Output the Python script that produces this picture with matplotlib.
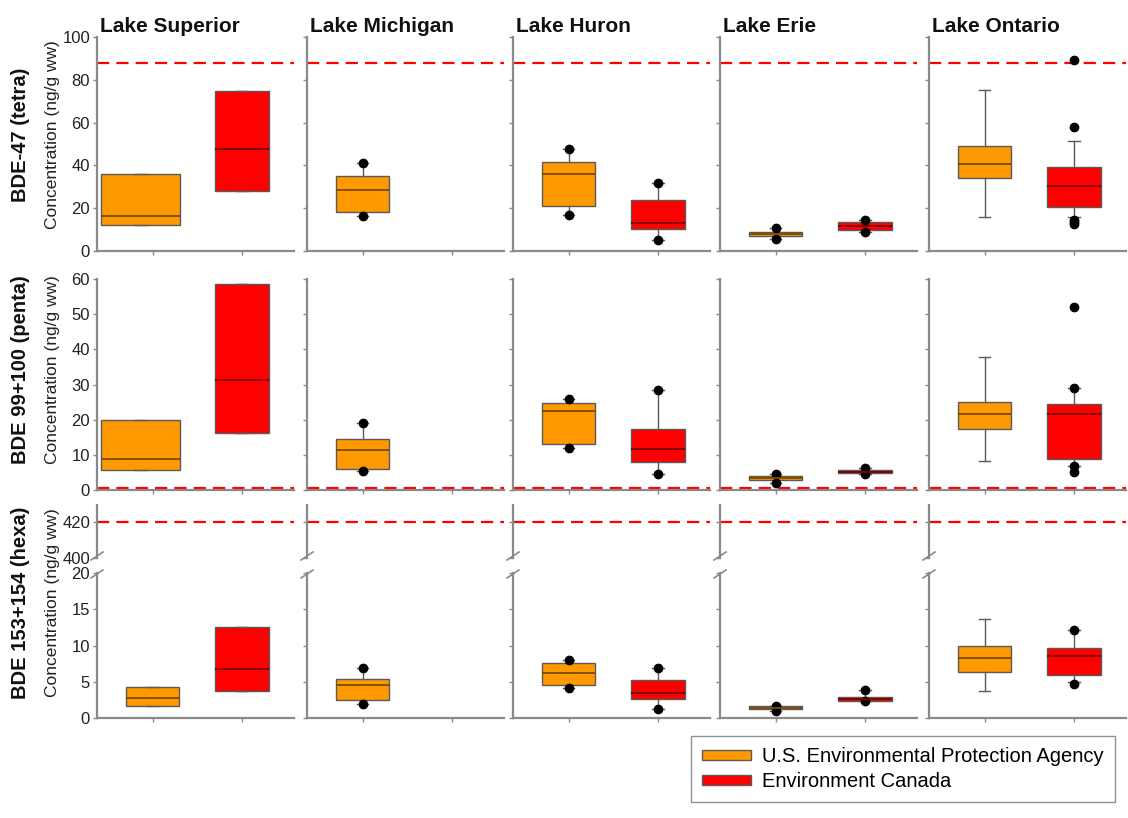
import numpy as np
import matplotlib.pyplot as plt
from matplotlib.patches import Patch

plt.rcParams['font.family'] = ['Liberation Sans', 'DejaVu Sans']

lakes = ['Lake Superior', 'Lake Michigan', 'Lake Huron', 'Lake Erie', 'Lake Ontario']
agencies = ['U.S. Environmental Protection Agency', 'Environment Canada']
row_names = ['BDE-47 (tetra)', 'BDE 99+100 (penta)', 'BDE 153+154 (hexa)']
ylabel = 'Concentration (ng/g ww)'

# box stats per lake: [whisker low, q1, median, q3, whisker high]
tetra_epa = [[12, 12, 16.5, 36, 36], [16.5, 18, 28.4, 35, 41], [16.7, 21.2, 35.8, 41.6, 47.7],
             [5.5, 7.2, 7.9, 8.7, 10.7], [15.9, 34.3, 40.8, 49.2, 75.1]]
tetra_ec = [[28, 28, 47.5, 75, 75], None, [5.1, 10.3, 13, 23.8, 31.6],
            [8.7, 9.8, 11.7, 13.7, 14.5], [15.9, 20.6, 30.5, 39.4, 51.4]]
tetra_epa_out = [[], [16.5, 41], [16.7, 47.7], [5.5, 10.7], []]
tetra_ec_out = [[], [], [5.1, 31.6], [8.7, 14.5], [89.3, 57.9, 14.5, 13.5, 12.6]]

penta_epa = [[5.7, 5.7, 8.7, 19.9, 19.9], [5.4, 6.0, 11.5, 14.4, 19], [12.0, 13.0, 22.5, 24.6, 25.9],
             [2.0, 2.9, 3.5, 4.0, 4.5], [8.2, 17.3, 21.7, 25.1, 37.9]]
penta_ec = [[16.2, 16.2, 31.3, 58.6, 58.6], None, [4.6, 7.9, 11.7, 17.3, 28.4],
            [4.6, 4.7, 5.2, 5.7, 6.3], [6.9, 8.8, 21.6, 24.5, 28.9]]
penta_epa_out = [[], [5.4, 19], [12.0, 25.9], [2.0, 4.5], []]
penta_ec_out = [[], [], [4.6, 28.4], [4.6, 6.3], [52.1, 28.9, 6.9, 5.1]]

hexa_epa = [[1.7, 1.7, 2.75, 4.3, 4.3], [2.0, 2.5, 4.6, 5.4, 6.9], [4.1, 4.5, 6.2, 7.6, 8.0],
            [1.0, 1.2, 1.4, 1.6, 1.7], [3.7, 6.3, 8.3, 10.0, 13.6]]
hexa_ec = [[3.7, 3.7, 6.8, 12.5, 12.5], None, [1.3, 2.6, 3.4, 5.3, 6.9],
           [2.35, 2.4, 2.6, 2.85, 3.8], [4.9, 5.9, 8.5, 9.7, 12.2]]
hexa_epa_out = [[], [2.0, 6.9], [4.1, 8.0], [1.0, 1.7], []]
hexa_ec_out = [[], [], [1.3, 6.9], [2.35, 3.8], [12.2, 4.7]]

# guideline values
limits = [88, 0.7, 420]

epa_col = '#FF9900'
ec_col = '#FF0000'
axis_grey = '#8a8a8a'

W, H = 1128, 818
fig = plt.figure(figsize=(W / 100, H / 100), dpi=100)

col_left = [97, 307, 513, 720, 929]
col_w = 197
rows_px = [(37, 251), (279, 490)]
hexa_top_px = (505, 558)
hexa_bot_px = (573, 718)


def make_ax(x0, top, bottom):
    return fig.add_axes([x0 / W, 1 - bottom / H, col_w / W, (bottom - top) / H])


def style(ax, labels, bottom=True):
    for s in ['top', 'right']:
        ax.spines[s].set_visible(False)
    ax.spines['left'].set_color(axis_grey)
    ax.spines['left'].set_linewidth(1.6)
    ax.spines['bottom'].set_color(axis_grey)
    ax.spines['bottom'].set_linewidth(1.6)
    ax.tick_params(axis='y', direction='out', length=3, width=1, color=axis_grey,
                   labelsize=12, labelcolor='#222222', pad=2)
    ax.tick_params(axis='x', direction='out', length=3, width=1, color=axis_grey,
                   labelbottom=False)
    if not labels:
        ax.tick_params(axis='y', labelleft=False)
    if not bottom:
        ax.spines['bottom'].set_visible(False)
        ax.tick_params(axis='x', length=0)
    ax.set_xlim(0.38, 2.58)
    ax.set_xticks([1, 2])


def draw_boxes(ax, i, j, epa, ec, epa_out, ec_out):
    sets = [(epa[j], epa_out[j], epa_col, '#7a4a00', 1), (ec[j], ec_out[j], ec_col, '#7a0000', 2)]
    for st, out, fc, mc, pos in sets:
        if st is None:
            continue
        w = 0.6
        p = pos
        # Superior EPA box drawn wider in first two rows
        if j == 0 and pos == 1 and i < 2:
            p, w = 0.87, 0.88
        stats = [dict(whislo=st[0], q1=st[1], med=st[2], q3=st[3], whishi=st[4], fliers=out)]
        ax.bxp(stats, positions=[p], widths=[w], patch_artist=True, capwidths=[0.13],
               boxprops=dict(facecolor=fc, edgecolor='#5a5a5a', linewidth=1),
               medianprops=dict(color=mc, linewidth=1.3),
               whiskerprops=dict(color='#5a5a5a', linewidth=1),
               capprops=dict(color='#5a5a5a', linewidth=1),
               flierprops=dict(marker='o', markerfacecolor='black', markeredgecolor='black',
                               markersize=6, linestyle='none'),
               manage_ticks=False)


dash = dict(color='red', linestyle=(0, (5.5, 3.2)), linewidth=1.6)

stats_rows = [(tetra_epa, tetra_ec, tetra_epa_out, tetra_ec_out),
              (penta_epa, penta_ec, penta_epa_out, penta_ec_out)]
ylims = [(0, 100), (0, 60)]
yticks = [np.arange(0, 101, 20), np.arange(0, 61, 10)]

for i in range(2):
    for j in range(5):
        ax = make_ax(col_left[j], *rows_px[i])
        style(ax, j == 0)
        ax.set_ylim(*ylims[i])
        ax.set_yticks(yticks[i])
        ax.axhline(limits[i], **dash, zorder=1)
        draw_boxes(ax, i, j, *stats_rows[i])

# hexa row with broken axis
for j in range(5):
    ax_t = make_ax(col_left[j], *hexa_top_px)
    style(ax_t, j == 0, bottom=False)
    ax_t.set_ylim(400, 429.4)
    ax_t.set_yticks([400, 420])
    ax_t.axhline(limits[2], **dash)

    ax_b = make_ax(col_left[j], *hexa_bot_px)
    style(ax_b, j == 0)
    ax_b.set_ylim(0, 20)
    ax_b.set_yticks([0, 5, 10, 15, 20])
    draw_boxes(ax_b, 2, j, hexa_epa, hexa_ec, hexa_epa_out, hexa_ec_out)

    # break marks on the y axis
    for y in [hexa_top_px[1] - 2, hexa_bot_px[0] + 1]:
        xs = np.array([col_left[j] - 6, col_left[j] + 6]) / W
        ys = 1 - np.array([y + 4, y - 4]) / H
        fig.add_artist(plt.Line2D(xs, ys, color=axis_grey, linewidth=1.2))

# lake titles
for j, lake in enumerate(lakes):
    fig.text((col_left[j] + 3) / W, 1 - 31.5 / H, lake, fontsize=15, fontweight='bold',
             ha='left', va='baseline', color='#111111')

# row labels
row_y = [135, 370, 603]
for name, y in zip(row_names, row_y):
    fig.text(21 / W, 1 - y / H, name, rotation=90, fontsize=14.5, fontweight='bold',
             ha='center', va='center', color='#111111')
    fig.text(53 / W, 1 - y / H, ylabel, rotation=90, fontsize=12.5,
             ha='center', va='center', color='#222222')

handles = [Patch(facecolor=epa_col, edgecolor='#5a5a5a', linewidth=1),
           Patch(facecolor=ec_col, edgecolor='#5a5a5a', linewidth=1)]
leg = fig.legend(handles, agencies, loc='center', bbox_to_anchor=(903 / W, 1 - 769 / H),
                 fontsize=14.5, frameon=True, fancybox=False, handlelength=2.4,
                 handleheight=0.35, labelspacing=0.3, borderpad=0.55, handletextpad=0.55,
                 borderaxespad=0)
leg.get_frame().set_edgecolor('#777777')
leg.get_frame().set_linewidth(1)

plt.savefig('out.png', dpi=100)
